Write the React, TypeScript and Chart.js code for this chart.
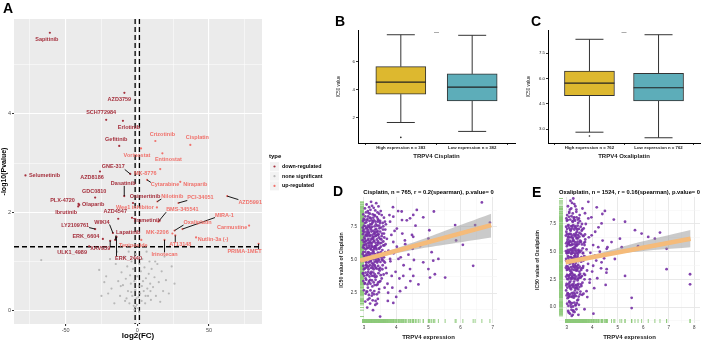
import React, { useEffect, useRef } from 'react';
import { Chart, registerables } from 'chart.js';
Chart.register(...registerables);

const FONT = '"Liberation Sans", Arial, Helvetica, sans-serif';
Chart.defaults.font.family = FONT;

// ================= Panel A : volcano =================
const downLabels = ['Sapitinib','AZD3759','SCH772984','Erlotinib','Gefitinib','GNE-317','AZD8186','Selumetinib','Dasatinib','Osimertinib','GDC0810','PLX-4720','Olaparib','Ibrutinib','AZD4547','Trametinib','WIKI4','LY2109761','Lapatinib','ERK_6604','XAV939','ULK1_4989','ERK_2440'];
const downFC = [-61,-9,-21.7,-10,-12.6,-4.9,-26,-78,-9.1,-3,-29.4,-41,-40.5,-41.2,-13.3,-3.7,-17,-29.4,-15.4,-24,-18.9,-33.6,-14.5];
const downP = [5.65,4.43,3.88,3.86,3.35,2.78,2.83,2.75,2.33,2.19,2.3,2.17,2.15,2.12,1.87,1.89,1.58,1.66,1.44,1.46,1.42,1.31,1.5];
const downDx = [-3,-5,-5,6,-3,-17,-8,19,-1,12,-1,-16,14,-12,-3,15,-11,-20,13,-17,-10,-17,12];
const downDy = [7,7,-7,7,-6,-7,6,0,-12.7,-6,-6,-3,0,6,-7,3,-11,-4,-7,-2,8,6,22];

const upLabels = ['Crizotinib','Cisplatin','Vorinostat','Entinostat','MK-8776','Cytarabine','Niraparib','Nilotinib','PCI-34051','AZD5991','Wee1 inhibitor','BMS-345541','MIRA-1','Oxaliplatin','MK-2206','AT13148','Irinotecan','Nutlin-3a (-)','Carmustine','PRIMA-1MET','Teniposide'];
const upFC = [12.6,37,2.6,17.5,16,6.8,30,14,28.7,62.7,13.7,14.7,31.5,26,24.5,26.5,19,41,78,84.6,2.8];
const upP = [3.45,3.37,3.3,3.2,2.88,2.66,2.62,2.22,2.19,2.33,2.1,1.81,1.66,1.63,1.57,1.53,1.44,1.49,1.73,1.36,1.44];
const upDx = [7,7,-4,6,-15,18,15,15,22,23,-22,24,42,23,-15,5,0,17,-17,-14,-8];
const upDy = [-7,-7,7,6,4,5,3,-5,-5,6,0,-12,-14,-8,-1,9,15,2,2,8,6];

const nsFC = [-67,-26.6,-21.7,-20.3,-13.3,-18,-15,-12,-11,-10,-9,-8.5,-8,-7,-6.5,-6,-5.5,-5,-4.5,-4,-3.5,-3,-2.5,-2,-1.5,-1,-0.5,0,0.5,1,1.5,2,2.5,3,3.5,4,4.5,5,5.5,6,6.5,7,7.5,8,8.5,9,9.5,10,11,12,13,14,15,16,17,18,19,20,22,24,26,-16,-14,-23,-19,-25,-2,1.2,-0.3,0.8,-1.2,3.2,-4.2,5.8,-7.5,9.2,-11.5,12.5];
const nsP = [1.03,0.83,0.7,0.35,0.6,0.45,0.95,0.3,0.78,0.52,1.1,0.2,0.65,0.9,0.4,1.2,0.15,0.72,0.55,1.0,0.3,0.85,0.1,0.6,0.42,1.15,0.25,0.7,0.05,0.5,0.95,0.35,0.8,0.2,1.05,0.6,0.4,0.88,0.15,0.66,1.2,0.45,0.3,0.75,1.0,0.55,0.22,0.85,0.48,0.68,0.3,0.95,0.58,0.18,0.8,0.4,1.1,0.62,0.35,0.9,0.55,0.15,1.2,0.58,1.05,0.3,0.02,-0.02,0.12,0.28,0.08,0.5,0.38,0.3,0.25,0.4,0.5,1.0];

const volXTicks = [-75,-50,-25,0,25,50,75];
const volYTicks = [0,1,2,3,4,5];
const fcCut = [-1.5, 1.5];
const pCut = 1.3;

// ================= Panels B / C : boxplots =================
const bCats = ['High expression n = 383', 'Low expression n = 382'];
const bLow = [1.66, 1.02];
const bQ1 = [3.69, 3.21];
const bMed = [4.55, 4.19];
const bQ3 = [5.66, 5.14];
const bHigh = [7.95, 7.91];
const bOut = [[0.59], []];
const bYTicks = [2, 4, 6];

const cCats = ['High expression n = 762', 'Low expression n = 762'];
const cLow = [2.83, 2.5];
const cQ1 = [4.99, 4.68];
const cMed = [5.74, 5.46];
const cQ3 = [6.45, 6.32];
const cHigh = [8.33, 8.6];
const cOut = [[2.6], []];
const cYTicks = [3, 4.5, 6, 7.5];

// ================= Panels D / E : scatter =================
const cisPoints = [
[6.66,9.36],[5.17,8.67],[4.64,8.79],[4.17,8.67],[4.53,8.41],[4.43,8.15],[4.18,8.02],[4.84,8.23],[5.03,7.25],[5.83,7.64],[6.45,7.64],[6.91,7.82],[5.0,6.62],[6.07,6.15],[5.86,6.48],[4.53,6.75],[4.27,6.48],[4.74,6.05],[4.51,5.85],[5.1,5.59],[5.31,5.08],[5.15,4.95],[4.84,4.82],[5.0,4.31],[4.43,4.31],[4.22,3.79],[4.53,3.79],[5.2,3.92],[5.05,3.67],[5.52,3.67],[6.39,4.56],[4.69,3.15],[4.12,2.64],[3.91,1.75],[3.5,0.72],[4.07,5.08],[3.91,6.36],[4.02,7.38],[3.91,8.28],[3.81,7.9],[3.81,5.08],[3.86,3.79],[3.75,2.52],
[2.97,7.2],[2.98,5.6],[2.99,8.1],[3.0,4.3],[3.01,6.7],[3.02,3.2],[3.03,7.8],[3.04,5.1],[3.05,6.2],[3.06,8.6],[3.07,4.8],[3.08,2.6],[3.09,7.0],[3.1,5.9],[3.11,3.9],[3.12,6.5],[3.13,8.3],[3.14,4.5],[3.15,7.5],[3.16,5.4],[3.17,2.1],[3.18,6.9],[3.19,3.5],[3.2,8.8],[3.21,5.0],[3.22,7.3],[3.23,4.1],[3.24,6.0],[3.25,9.1],[3.26,3.0],[3.27,5.7],[3.28,7.9],[3.29,4.7],[3.3,6.4],[3.31,2.4],[3.32,8.4],[3.33,5.3],[3.34,7.1],[3.35,3.7],[3.36,6.8],[3.37,4.4],[3.38,9.3],[3.39,5.8],[3.4,1.7],[3.41,7.6],[3.42,4.9],[3.43,6.3],[3.44,3.3],[3.45,8.0],[3.46,5.5],[3.47,2.8],[3.48,7.4],[3.49,4.2],[3.5,6.6],[3.52,8.7],[3.53,5.2],[3.55,3.6],[3.56,7.0],[3.58,4.6],[3.6,6.1],[3.62,8.2],[3.64,2.9],[3.66,5.6],[3.68,7.7],[3.7,4.0],
[2.97,4.0],[2.99,6.1],[3.0,7.6],[3.02,5.3],[3.03,8.9],[3.05,3.6],[3.06,6.9],[3.08,4.6],[3.09,8.0],[3.11,5.5],[3.12,2.9],[3.14,7.1],[3.15,3.3],[3.17,6.0],[3.18,8.5],[3.2,4.0],[3.21,6.3],[3.23,7.7],[3.24,2.3],[3.26,5.2],[3.27,6.7],[3.29,8.2],[3.3,3.8],[3.32,5.9],[3.33,4.6],[3.35,7.3],[3.36,1.9],[3.38,6.1],[3.39,3.1],[3.41,5.4],[3.42,8.6],[3.44,6.9],[3.46,4.3],[3.48,5.9],[3.5,7.8],[3.51,3.4],[3.54,6.3],[3.57,5.0],[3.59,7.3],[3.61,3.9],[3.63,6.7],[3.65,4.8],[3.1,1.4],[3.22,9.4],[3.28,1.2],[3.16,9.0],
[3.01,5.9],[3.04,6.4],[3.07,7.4],[3.1,6.8],[3.13,5.6],[3.16,6.3],[3.19,7.7],[3.22,5.8],[3.25,6.6],[3.28,5.5],[3.31,7.0],[3.34,6.0],[3.37,5.1],[3.4,6.9],[3.43,7.9],[3.46,6.7],[3.49,5.3],[3.27,4.4],[3.18,4.9],[3.09,5.3],[3.12,7.6],[3.36,7.9],[3.44,5.1],[3.05,4.4],[3.24,8.0],[3.33,3.1],
[3.08,9.2],[3.3,8.95],[3.45,9.05],[3.12,8.7],[3.35,8.75],
[2.98,8.45],[3.04,8.3],[3.14,8.55],[3.19,8.2],[3.27,8.45],[3.34,8.35],[3.4,8.25],[3.47,8.5],[3.55,8.4],
[2.97,7.95],[3.02,8.05],[3.07,7.85],[3.11,8.1],[3.17,7.95],[3.21,8.15],[3.26,7.8],[3.31,8.0],[3.37,7.7],[3.43,8.1],[3.5,7.95],[3.58,7.8],
[2.96,7.45],[3.0,7.3],[3.04,7.55],[3.09,7.4],[3.13,7.25],[3.17,7.55],[3.2,7.4],[3.25,7.5],[3.29,7.2],[3.33,7.55],[3.38,7.35],[3.42,7.2],[3.47,7.6],[3.53,7.45],[3.6,7.55],[3.66,7.3],
[2.97,6.95],[3.01,7.1],[3.05,6.85],[3.08,7.15],[3.12,6.9],[3.15,7.05],[3.19,6.8],[3.23,7.15],[3.26,6.9],[3.3,6.75],[3.33,7.0],[3.37,6.85],[3.41,7.1],[3.45,6.95],[3.5,7.15],[3.55,6.8],[3.62,7.0],
[2.96,6.5],[3.0,6.35],[3.03,6.6],[3.07,6.45],[3.11,6.25],[3.14,6.6],[3.18,6.4],[3.22,6.55],[3.25,6.3],[3.29,6.6],[3.32,6.45],[3.36,6.3],[3.4,6.55],[3.44,6.4],[3.49,6.25],[3.54,6.55],[3.6,6.4],[3.67,6.2],
[2.97,5.95],[3.01,6.15],[3.05,5.8],[3.08,6.05],[3.12,5.9],[3.16,6.1],[3.2,5.85],[3.23,6.15],[3.27,6.0],[3.31,5.8],[3.35,6.05],[3.38,5.9],[3.42,6.15],[3.47,5.85],[3.52,6.0],[3.57,5.75],[3.63,6.1],
[2.96,5.45],[3.0,5.3],[3.04,5.6],[3.07,5.4],[3.11,5.25],[3.15,5.55],[3.19,5.35],[3.22,5.5],[3.26,5.3],[3.3,5.6],[3.34,5.45],[3.38,5.3],[3.43,5.55],[3.47,5.4],[3.52,5.6],[3.58,5.3],[3.65,5.45],
[2.97,4.95],[3.02,5.1],[3.06,4.85],[3.1,5.05],[3.14,4.8],[3.18,5.15],[3.21,4.9],[3.25,4.75],[3.29,5.05],[3.33,4.85],[3.37,4.95],[3.41,4.8],[3.46,5.0],[3.51,4.85],[3.56,5.05],[3.62,4.9],
[2.98,4.55],[3.02,4.35],[3.06,4.6],[3.1,4.45],[3.14,4.3],[3.18,4.6],[3.22,4.4],[3.26,4.55],[3.3,4.3],[3.34,4.5],[3.39,4.35],[3.44,4.55],[3.5,4.4],[3.57,4.3],
[2.97,3.95],[3.01,3.8],[3.05,4.05],[3.09,3.85],[3.13,4.1],[3.17,3.75],[3.21,3.95],[3.25,3.8],[3.29,4.05],[3.34,3.9],[3.39,3.75],[3.45,4.0],[3.52,3.85],
[2.98,3.4],[3.03,3.25],[3.07,3.5],[3.11,3.15],[3.16,3.4],[3.2,3.2],[3.25,3.45],[3.3,3.3],[3.36,3.5],[3.42,3.15],[3.48,3.35],
[3.0,2.7],[3.05,2.45],[3.1,2.6],[3.15,2.35],[3.2,2.7],[3.26,2.5],[3.32,2.65],[3.4,2.4],[3.46,2.55],
[3.04,1.85],[3.12,2.0],[3.19,1.7],[3.27,1.95],[3.35,1.6],[3.43,2.05],
[3.62,5.2],[3.65,7.9],[3.68,4.4],[3.71,6.6],[3.73,3.2],[3.76,5.7],[3.79,8.4],[3.82,4.9],[3.85,6.9],[3.88,2.9],[3.92,5.5],[3.95,7.2],[3.98,4.1],[4.02,6.0],[4.06,8.7],[4.1,3.6],[4.14,5.2],[4.19,7.0],[4.23,4.6],[4.28,6.2],[4.33,8.0],[4.38,5.4],[4.44,3.4],[4.49,6.9],[4.55,5.0],[4.6,7.6],[3.74,1.9],[3.9,9.0],[4.0,2.2],[4.3,2.9]
];
const cisFitX = [2.88, 6.95];
const cisFitY = [4.95, 7.64];
const cisBandX = [2.88, 3.5, 4.5, 5.5, 6.95];
const cisBandHi = [5.15, 5.5, 6.3, 7.2, 8.5];
const cisBandLo = [4.75, 5.2, 5.75, 6.15, 6.7];

const oxaPoints = [
[4.18,9.0],[4.5,8.68],[3.72,8.47],[3.85,8.0],[4.37,7.55],[4.85,7.9],[5.29,7.7],[5.68,6.94],[5.94,6.63],[6.66,6.72],[6.46,6.17],[6.2,6.33],[5.09,6.17],[4.76,5.87],[5.16,5.41],[4.57,5.26],[5.55,5.1],[5.8,5.5],[6.92,5.26],[4.11,4.64],[4.37,4.04],[4.89,4.34],[5.29,2.81],[4.57,3.42],[6.92,3.42],[7.84,2.96],[7.84,2.05],[5.55,0.83],[5.55,-0.09],[3.91,2.5],[4.04,3.73],[3.78,1.43],[3.72,5.87],[3.98,6.48],[4.24,5.41],[3.45,0.67],[3.26,-0.4],
[2.98,4.2],[2.99,6.8],[3.0,2.1],[3.01,5.5],[3.02,8.3],[3.03,3.4],[3.04,6.1],[3.05,1.2],[3.06,4.9],[3.07,7.4],[3.08,2.8],[3.09,5.8],[3.1,0.5],[3.11,6.6],[3.12,3.9],[3.13,8.8],[3.14,2.3],[3.15,5.2],[3.16,7.0],[3.17,1.6],[3.18,4.5],[3.19,6.3],[3.2,3.1],[3.21,9.4],[3.22,5.0],[3.23,2.0],[3.24,7.7],[3.25,4.0],[3.26,-0.3],[3.27,6.0],[3.28,3.6],[3.29,8.1],[3.3,1.0],[3.31,5.4],[3.32,2.6],[3.33,7.2],[3.34,4.7],[3.35,0.2],[3.36,6.5],[3.37,3.3],[3.38,8.6],[3.39,5.7],[3.4,1.8],[3.41,4.3],[3.42,7.0],[3.43,2.4],[3.44,6.2],[3.45,3.8],[3.46,-0.7],[3.47,5.1],[3.48,8.0],[3.49,2.9],[3.5,6.7],[3.52,4.4],[3.54,1.4],[3.56,5.9],[3.58,3.5],[3.6,7.5],[3.62,2.2],[3.64,4.9],[3.66,6.4],[3.68,3.0],[3.7,5.6],
[2.98,1.5],[3.0,3.7],[3.01,7.8],[3.03,5.0],[3.04,0.8],[3.06,2.5],[3.07,6.3],[3.09,4.1],[3.1,8.5],[3.12,1.9],[3.13,5.6],[3.15,3.0],[3.16,6.9],[3.18,0.0],[3.19,4.8],[3.21,2.7],[3.22,7.3],[3.24,3.9],[3.25,6.1],[3.27,1.3],[3.28,5.3],[3.3,7.9],[3.31,2.9],[3.33,4.3],[3.34,9.1],[3.36,1.7],[3.37,5.5],[3.39,3.4],[3.4,6.8],[3.42,0.6],[3.43,4.6],[3.45,7.6],[3.46,2.1],[3.48,5.0],[3.5,3.2],[3.51,8.3],[3.53,6.0],[3.55,2.7],[3.57,4.1],[3.59,6.9],[3.61,1.1],[3.63,5.3],[3.65,3.7],[3.67,7.1],[3.15,9.6],[3.08,-0.5],[3.26,9.8],[3.2,-0.8],
[3.02,2.9],[3.05,4.6],[3.08,3.5],[3.11,2.2],[3.14,4.0],[3.17,3.2],[3.2,5.6],[3.23,3.0],[3.26,4.4],[3.29,2.3],[3.32,3.8],[3.35,5.2],[3.38,2.0],[3.41,3.6],[3.44,4.8],[3.47,2.6],[3.5,4.2],[3.53,3.0],[3.12,6.0],[3.18,2.6],[3.24,5.3],[3.3,4.6],[3.36,4.0],[3.42,5.6],[3.06,5.7],[3.0,4.9],[3.09,1.0],[3.27,1.9],[3.33,1.5],[3.39,6.2],[3.45,1.6],[3.14,0.4],[3.22,0.9],[3.58,1.9],[3.7,2.5],[3.75,4.5],[3.8,3.3],[3.73,6.1],
[3.05,9.1],[3.18,8.9],[3.3,9.3],[3.1,8.6],[3.24,8.45],[3.38,8.8],
[2.99,8.0],[3.04,7.85],[3.09,8.15],[3.14,7.9],[3.19,8.2],[3.23,7.75],[3.28,8.05],[3.33,7.8],[3.39,8.1],[3.44,7.9],[3.52,7.75],
[2.98,7.25],[3.02,7.05],[3.06,7.35],[3.1,7.15],[3.14,6.95],[3.18,7.3],[3.22,7.1],[3.26,7.4],[3.3,7.0],[3.34,7.3],[3.38,7.1],[3.43,7.35],[3.48,7.05],[3.55,7.25],[3.62,7.0],
[2.97,6.45],[3.01,6.6],[3.05,6.35],[3.08,6.55],[3.12,6.3],[3.16,6.6],[3.2,6.45],[3.24,6.25],[3.28,6.55],[3.32,6.4],[3.36,6.65],[3.4,6.3],[3.45,6.5],[3.5,6.35],[3.56,6.6],[3.63,6.45],[3.72,6.55],
[2.98,5.75],[3.02,5.9],[3.06,5.65],[3.1,5.85],[3.14,5.6],[3.18,5.9],[3.22,5.7],[3.26,5.95],[3.3,5.65],[3.34,5.85],[3.38,5.6],[3.43,5.9],[3.47,5.7],[3.53,5.85],[3.6,5.65],[3.68,5.8],
[2.97,5.05],[3.01,4.85],[3.05,5.15],[3.09,4.95],[3.13,5.1],[3.17,4.85],[3.21,5.15],[3.25,4.9],[3.29,5.1],[3.33,4.85],[3.37,5.05],[3.41,4.9],[3.46,5.15],[3.51,4.95],[3.57,5.1],[3.64,4.85],
[2.98,4.35],[3.02,4.15],[3.06,4.45],[3.1,4.25],[3.14,4.5],[3.18,4.2],[3.22,4.4],[3.26,4.15],[3.3,4.35],[3.34,4.55],[3.38,4.25],[3.42,4.45],[3.47,4.15],[3.52,4.35],[3.58,4.5],[3.66,4.2],
[2.97,3.55],[3.01,3.35],[3.05,3.65],[3.09,3.45],[3.13,3.3],[3.17,3.6],[3.21,3.4],[3.25,3.7],[3.29,3.35],[3.33,3.55],[3.37,3.7],[3.41,3.3],[3.46,3.5],[3.51,3.65],[3.57,3.35],[3.64,3.55],
[2.98,2.75],[3.02,2.55],[3.06,2.85],[3.1,2.65],[3.14,2.9],[3.18,2.5],[3.22,2.8],[3.26,2.6],[3.3,2.85],[3.34,2.5],[3.38,2.75],[3.43,2.55],[3.48,2.85],[3.54,2.65],[3.6,2.8],
[2.99,1.95],[3.03,1.75],[3.07,2.05],[3.11,1.85],[3.15,1.7],[3.19,2.0],[3.23,1.8],[3.27,2.1],[3.31,1.75],[3.35,1.95],[3.39,1.7],[3.44,2.0],[3.5,1.8],[3.56,2.05],
[3.0,1.05],[3.04,1.25],[3.08,0.9],[3.12,1.15],[3.16,0.95],[3.2,1.25],[3.24,1.05],[3.28,0.85],[3.32,1.2],[3.36,1.0],[3.41,1.3],[3.47,0.95],[3.53,1.15],
[3.02,0.3],[3.07,0.1],[3.11,0.45],[3.16,0.2],[3.21,0.35],[3.25,0.05],[3.3,0.4],[3.35,0.15],[3.4,0.35],[3.48,0.2],
[3.06,-0.35],[3.13,-0.6],[3.19,-0.25],[3.24,-0.7],[3.31,-0.45],[3.38,-0.2],
[3.62,8.9],[3.66,1.2],[3.69,4.6],[3.72,2.9],[3.75,7.5],[3.78,5.2],[3.81,0.9],[3.84,3.9],[3.87,6.3],[3.9,2.2],[3.93,4.9],[3.97,8.1],[4.0,3.2],[4.04,5.6],[4.08,1.7],[4.12,6.8],[4.16,4.2],[4.2,2.6],[4.25,7.2],[4.3,5.0],[4.35,3.5],[4.41,6.0],[4.47,4.4],[4.53,2.0],[4.6,5.4],[3.7,-0.2],[3.85,9.5],[4.05,-0.6],[4.4,8.4],[4.56,3.1]
];
const oxaFitX = [2.96, 7.86];
const oxaFitY = [4.04, 6.17];
const oxaBandX = [2.96, 3.5, 4.5, 5.5, 7.86];
const oxaBandHi = [4.25, 4.45, 5.0, 5.65, 6.95];
const oxaBandLo = [3.85, 4.15, 4.6, 4.95, 5.4];

const dXTicks = [3,3.5,4,4.5,5,5.5,6,6.5,7];
const dYTicks = [1.25,2.5,3.75,5,6.25,7.5,8.75];
const eXTicks = [3,3.5,4,4.5,5,5.5,6,6.5,7,7.5,8];
const eYTicks = [-1.25,0,1.25,2.5,3.75,5,6.25,7.5,8.75];

// ================= styles =================
const DOWN = '#A5303D';
const UP = '#F0716B';
const NS = '#B8B8B8';
const YEL = '#DDB82F';
const TEAL = '#5DADB9';
const PURPLE = 'rgba(118,48,165,0.9)';
const RUG = '#8DC97B';
const ORANGE = '#F5BB7A';

const bgPlugin = {
  id: 'ggbg',
  beforeDraw(chart: any) {
    const { ctx, chartArea: a } = chart;
    ctx.save();
    ctx.fillStyle = '#EBEBEB';
    ctx.fillRect(a.left, a.top, a.right - a.left, a.bottom - a.top);
    ctx.restore();
  },
};

const cutPlugin = {
  id: 'cuts',
  beforeDatasetsDraw(chart: any) {
    const { ctx, chartArea: a, scales: { x, y } } = chart;
    ctx.save();
    ctx.strokeStyle = '#000';
    ctx.lineWidth = 1.3;
    ctx.setLineDash([5, 3]);
    ctx.beginPath();
    fcCut.forEach((v) => {
      const px = x.getPixelForValue(v);
      ctx.moveTo(px, a.top);
      ctx.lineTo(px, a.bottom);
    });
    const py = y.getPixelForValue(pCut);
    ctx.moveTo(a.left, py);
    ctx.lineTo(a.right, py);
    ctx.stroke();
    ctx.restore();
  },
};

const volLabelPlugin = {
  id: 'volLabels',
  afterDatasetsDraw(chart: any) {
    const { ctx, scales: { x, y } } = chart;
    const groups = [
      { fx: downFC, fy: downP, lab: downLabels, dx: downDx, dy: downDy, color: DOWN },
      { fx: upFC, fy: upP, lab: upLabels, dx: upDx, dy: upDy, color: UP },
    ];
    ctx.save();
    ctx.font = 'bold 5.5px ' + FONT;
    ctx.textAlign = 'center';
    ctx.textBaseline = 'middle';
    const items: any[] = [];
    groups.forEach((g) => {
      g.lab.forEach((t, i) => {
        const px = x.getPixelForValue(g.fx[i]);
        const py = y.getPixelForValue(g.fy[i]);
        items.push({ t, px, py, lx: px + g.dx[i], ly: py + g.dy[i], color: g.color });
      });
    });
    ctx.strokeStyle = '#000';
    ctx.lineWidth = 0.9;
    items.forEach((it) => {
      const w = ctx.measureText(it.t).width;
      const h = 5;
      const nx = Math.max(it.lx - w / 2, Math.min(it.px, it.lx + w / 2));
      const ny = Math.max(it.ly - h / 2, Math.min(it.py, it.ly + h / 2));
      if (Math.hypot(nx - it.px, ny - it.py) > 4.5) {
        ctx.beginPath();
        ctx.moveTo(it.px, it.py);
        ctx.lineTo(nx, ny);
        ctx.stroke();
      }
    });
    items.forEach((it) => {
      ctx.fillStyle = it.color;
      ctx.fillText(it.t, it.lx, it.ly);
    });
    ctx.restore();
  },
  afterDraw(chart: any) {
    const { ctx } = chart;
    ctx.save();
    ctx.fillStyle = '#000';
    ctx.font = 'bold 6px ' + FONT;
    ctx.textBaseline = 'middle';
    ctx.fillText('type', 269, 156);
    const entries = [
      { t: 'down-regulated', c: DOWN },
      { t: 'none significant', c: NS },
      { t: 'up-regulated', c: UP },
    ];
    entries.forEach((e, i) => {
      const cy = 166.5 + i * 9.7;
      ctx.fillStyle = '#F2F2F2';
      ctx.fillRect(270, cy - 4.5, 9, 9);
      ctx.fillStyle = e.c;
      ctx.beginPath();
      ctx.arc(274.5, cy, 1.1, 0, Math.PI * 2);
      ctx.fill();
      ctx.fillStyle = '#000';
      ctx.font = 'bold 5.3px ' + FONT;
      ctx.fillText(e.t, 282, cy);
    });
    ctx.restore();
  },
};

function buildVolcano(canvas: HTMLCanvasElement) {
  const mk = (xs: number[], ys: number[]) => xs.map((v, i) => ({ x: v, y: ys[i] }));
  return new Chart(canvas, {
    type: 'scatter',
    data: {
      datasets: [
        { label: 'none significant', data: mk(nsFC, nsP), backgroundColor: NS, borderWidth: 0, pointRadius: 1.1 },
        { label: 'down-regulated', data: mk(downFC, downP), backgroundColor: DOWN, borderWidth: 0, pointRadius: 1.1 },
        { label: 'up-regulated', data: mk(upFC, upP), backgroundColor: UP, borderWidth: 0, pointRadius: 1.1 },
      ],
    },
    options: {
      animation: false,
      responsive: false,
      maintainAspectRatio: false,
      layout: { padding: { top: 19, right: 78, left: 0, bottom: 0 } },
      plugins: { legend: { display: false }, tooltip: { enabled: false } },
      scales: {
        x: {
          type: 'linear', min: -86, max: 87,
          afterBuildTicks: (s: any) => { s.ticks = volXTicks.map((v) => ({ value: v })); },
          afterFit: (s: any) => { s.height = 17; },
          border: { display: false },
          grid: {
            color: '#FFFFFF',
            lineWidth: (c: any) => (c.tick && c.tick.value % 50 === 0 ? 1.1 : 0.5),
            tickColor: (c: any) => (c.tick && c.tick.value % 50 === 0 ? '#333' : 'rgba(0,0,0,0)'),
            tickLength: 2,
          },
          ticks: { font: { size: 5.5 }, color: '#4D4D4D', padding: 1, maxRotation: 0, autoSkip: false,
            callback: (v: any) => (v % 50 === 0 ? String(v) : '') },
          title: { display: true, text: 'log2(FC)', font: { size: 8, weight: 'bold' }, color: '#000', padding: 0 },
        },
        y: {
          type: 'linear', min: -0.27, max: 5.93,
          afterBuildTicks: (s: any) => { s.ticks = volYTicks.map((v) => ({ value: v })); },
          afterFit: (s: any) => { s.width = 14; },
          border: { display: false },
          grid: {
            color: '#FFFFFF',
            lineWidth: (c: any) => (c.tick && c.tick.value % 2 === 0 ? 1.1 : 0.5),
            tickColor: (c: any) => (c.tick && c.tick.value % 2 === 0 ? '#333' : 'rgba(0,0,0,0)'),
            tickLength: 2,
          },
          ticks: { font: { size: 5.5 }, color: '#4D4D4D', padding: 1, autoSkip: false,
            callback: (v: any) => (v % 2 === 0 ? String(v) : '') },
          title: { display: true, text: '-log10(Pvalue)', font: { size: 7, weight: 'bold' }, color: '#000', padding: 0 },
        },
      },
    } as any,
    plugins: [bgPlugin, cutPlugin, volLabelPlugin],
  });
}

function makeBoxPlugin(low: number[], med: number[], q1: number[], q3: number[], high: number[], out: number[][]) {
  return {
    id: 'boxparts',
    beforeDatasetsDraw(chart: any) {
      const { ctx, scales: { x, y } } = chart;
      ctx.save();
      ctx.strokeStyle = '#333';
      ctx.lineWidth = 1;
      low.forEach((_, i) => {
        const cx = x.getPixelForValue(i + 1);
        const hi = y.getPixelForValue(high[i]);
        const lo = y.getPixelForValue(low[i]);
        ctx.beginPath();
        ctx.moveTo(cx, y.getPixelForValue(q3[i])); ctx.lineTo(cx, hi);
        ctx.moveTo(cx, y.getPixelForValue(q1[i])); ctx.lineTo(cx, lo);
        ctx.moveTo(cx - 14, hi); ctx.lineTo(cx + 14, hi);
        ctx.moveTo(cx - 14, lo); ctx.lineTo(cx + 14, lo);
        ctx.stroke();
      });
      ctx.restore();
    },
    afterDatasetsDraw(chart: any) {
      const { ctx, chartArea: a, scales: { x, y } } = chart;
      const meta = chart.getDatasetMeta(0);
      ctx.save();
      ctx.strokeStyle = '#222';
      ctx.lineWidth = 1.2;
      med.forEach((m, i) => {
        const el = meta.data[i];
        const py = y.getPixelForValue(m);
        ctx.beginPath();
        ctx.moveTo(el.x - el.width / 2, py);
        ctx.lineTo(el.x + el.width / 2, py);
        ctx.stroke();
      });
      ctx.fillStyle = '#222';
      out.forEach((arr, i) => {
        arr.forEach((v) => {
          ctx.beginPath();
          ctx.arc(x.getPixelForValue(i + 1), y.getPixelForValue(v), 0.8, 0, Math.PI * 2);
          ctx.fill();
        });
      });
      ctx.font = '5px ' + FONT;
      ctx.textAlign = 'center';
      ctx.textBaseline = 'middle';
      ctx.fillText('—', x.getPixelForValue(1.5), a.top + 3);
      ctx.restore();
    },
  };
}

function buildBox(canvas: HTMLCanvasElement, cats: string[], low: number[], q1: number[], med: number[], q3: number[], high: number[], out: number[][], yTicks: number[], yMin: number, yMax: number, xTitle: string, padRight: number, decimals: number) {
  return new Chart(canvas, {
    type: 'bar',
    data: {
      datasets: [{
        data: q1.map((v, i) => ({ x: i + 1, y: [v, q3[i]] })),
        backgroundColor: [YEL, TEAL],
        borderColor: '#333',
        borderWidth: 1,
        borderSkipped: false,
        barThickness: 50,
      }],
    },
    options: {
      animation: false,
      responsive: false,
      maintainAspectRatio: false,
      layout: { padding: { top: 30, right: padRight, left: 0, bottom: 0 } },
      plugins: { legend: { display: false }, tooltip: { enabled: false } },
      scales: {
        x: {
          type: 'linear', min: 0.4, max: 2.6, offset: false,
          afterBuildTicks: (s: any) => { s.ticks = [1, 2].map((v) => ({ value: v })); },
          afterFit: (s: any) => { s.height = 17; },
          border: { display: true, color: '#000', width: 1 },
          grid: { display: true, drawOnChartArea: false, color: '#333', tickLength: 2 },
          ticks: { font: { size: 4.3, weight: 'bold' }, color: '#222', padding: 0.5, maxRotation: 0, autoSkip: false,
            callback: (v: any) => cats[v - 1] || '' },
          title: { display: true, text: xTitle, font: { size: 6, weight: 'bold' }, color: '#222', padding: 0 },
        },
        y: {
          type: 'linear', min: yMin, max: yMax,
          afterBuildTicks: (s: any) => { s.ticks = yTicks.map((v) => ({ value: v })); },
          afterFit: (s: any) => { s.width = 24; },
          border: { display: true, color: '#000', width: 1 },
          grid: { display: true, drawOnChartArea: false, color: '#333', tickLength: 2 },
          ticks: { font: { size: 4.3 }, color: '#222', padding: 1, autoSkip: false,
            callback: (v: any) => Number(v).toFixed(decimals) },
          title: { display: true, text: 'IC50 value', font: { size: 4.5 }, color: '#222', padding: 2 },
        },
      },
    } as any,
    plugins: [makeBoxPlugin(low, med, q1, q3, high, out)],
  });
}

function makeRugPlugin(points: number[][]) {
  return {
    id: 'rug',
    beforeDatasetsDraw(chart: any) {
      const { ctx, chartArea: a, scales: { x, y } } = chart;
      ctx.save();
      ctx.strokeStyle = RUG;
      ctx.lineWidth = 0.9;
      ctx.beginPath();
      points.forEach((p) => {
        const px = x.getPixelForValue(p[0]);
        const py = y.getPixelForValue(p[1]);
        ctx.moveTo(px, a.bottom - 4);
        ctx.lineTo(px, a.bottom);
        ctx.moveTo(a.left, py);
        ctx.lineTo(a.left + 4, py);
      });
      ctx.stroke();
      ctx.restore();
    },
  };
}

function buildScatter(canvas: HTMLCanvasElement, points: number[][], fitX: number[], fitY: number[], bandX: number[], bandHi: number[], bandLo: number[], xMin: number, xMax: number, yMin: number, yMax: number, xTicks: number[], yTicks: number[], title: string, yTitle: string, yAxisW: number, padRight: number) {
  return new Chart(canvas, {
    type: 'scatter',
    data: {
      datasets: [
        { data: points.map((p) => ({ x: p[0], y: p[1] })), backgroundColor: PURPLE, borderWidth: 0, pointRadius: 1.4, order: 10 },
        { type: 'line', data: bandX.map((v, i) => ({ x: v, y: bandHi[i] })), borderWidth: 0, pointRadius: 0, fill: '+1', backgroundColor: 'rgba(150,150,150,0.5)', tension: 0.4, order: 5 },
        { type: 'line', data: bandX.map((v, i) => ({ x: v, y: bandLo[i] })), borderWidth: 0, pointRadius: 0, fill: false, tension: 0.4, order: 5 },
        { type: 'line', data: fitX.map((v, i) => ({ x: v, y: fitY[i] })), borderColor: ORANGE, borderWidth: 4.5, pointRadius: 0, fill: false, order: 1 },
      ],
    },
    options: {
      animation: false,
      responsive: false,
      maintainAspectRatio: false,
      layout: { padding: { top: 0, right: padRight, left: 0, bottom: 0 } },
      plugins: {
        legend: { display: false }, tooltip: { enabled: false },
        title: { display: true, text: title, fullSize: false, font: { size: 5.8, weight: 'bold' }, color: '#000', padding: { top: 5.5, bottom: 1.5 } },
      },
      scales: {
        x: {
          type: 'linear', min: xMin, max: xMax,
          afterBuildTicks: (s: any) => { s.ticks = xTicks.map((v) => ({ value: v })); },
          afterFit: (s: any) => { s.height = 18; },
          border: { display: false },
          grid: { drawTicks: false, color: (c: any) => (c.tick && Number.isInteger(c.tick.value) ? '#E6E6E6' : '#F2F2F2'), lineWidth: (c: any) => (c.tick && Number.isInteger(c.tick.value) ? 0.9 : 0.5) },
          ticks: { font: { size: 4.5 }, color: '#333', padding: 2.5, maxRotation: 0, autoSkip: false,
            callback: (v: any) => (Number.isInteger(v) ? String(v) : '') },
          title: { display: true, text: 'TRPV4 expression', font: { size: 6, weight: 'bold' }, color: '#222', padding: 0 },
        },
        y: {
          type: 'linear', min: yMin, max: yMax,
          afterBuildTicks: (s: any) => { s.ticks = yTicks.map((v) => ({ value: v })); },
          afterFit: (s: any) => { s.width = yAxisW; },
          border: { display: false },
          grid: { drawTicks: false, color: (c: any) => (c.tick && c.tick.value % 2.5 === 0 ? '#E6E6E6' : '#F2F2F2'), lineWidth: (c: any) => (c.tick && c.tick.value % 2.5 === 0 ? 0.9 : 0.5) },
          ticks: { font: { size: 4.5 }, color: '#333', padding: 3, autoSkip: false,
            callback: (v: any) => (v % 2.5 === 0 ? Number(v).toFixed(1) : '') },
          title: { display: true, text: yTitle, font: { size: 5.2, weight: 'bold' }, color: '#222', padding: 0 },
        },
      },
    } as any,
    plugins: [makeRugPlugin(points)],
  });
}

function ChartCanvas({ left, top, width, height, build }: any) {
  const ref = useRef<HTMLCanvasElement>(null);
  useEffect(() => {
    const chart = build(ref.current as HTMLCanvasElement);
    return () => chart.destroy();
  }, []);
  return <canvas ref={ref} width={width} height={height} style={{ position: 'absolute', left, top, width, height }} />;
}

const letterStyle = (left: number, top: number): any => ({
  position: 'absolute', left, top, fontFamily: FONT, fontWeight: 'bold', fontSize: 14, lineHeight: '14px', color: '#000',
});

export default function App() {
  return (
    <div style={{ position: 'fixed', left: 0, top: 0, width: 708, height: 341, background: '#fff', overflow: 'hidden' }}>
      <ChartCanvas left={0} top={0} width={340} height={341} build={buildVolcano} />
      <ChartCanvas left={334} top={0} width={184} height={160}
        build={(c: HTMLCanvasElement) => buildBox(c, bCats, bLow, bQ1, bMed, bQ3, bHigh, bOut, bYTicks, 0.19, 8.29, 'TRPV4 Cisplatin', 3, 0)} />
      <ChartCanvas left={524} top={0} width={184} height={160}
        build={(c: HTMLCanvasElement) => buildBox(c, cCats, cLow, cQ1, cMed, cQ3, cHigh, cOut, cYTicks, 2.19, 8.88, 'TRPV4 Oxaliplatin', 8, 1)} />
      <ChartCanvas left={338} top={183} width={164} height={158}
        build={(c: HTMLCanvasElement) => buildScatter(c, cisPoints, cisFitX, cisFitY, cisBandX, cisBandHi, cisBandLo, 2.876, 7.13, 0.23, 9.77, dXTicks, dYTicks, 'Cisplatin, n = 765, r = 0.2(spearman), p.value= 0', 'IC50 value of Cisplatin', 22, 5)} />
      <ChartCanvas left={534} top={183} width={174} height={158}
        build={(c: HTMLCanvasElement) => buildScatter(c, oxaPoints, oxaFitX, oxaFitY, oxaBandX, oxaBandHi, oxaBandLo, 2.70, 8.23, -1.44, 9.94, eXTicks, eYTicks, 'Oxaliplatin, n = 1524, r = 0.16(spearman), p.value= 0', 'IC50 value of Oxaliplatin', 25, 8)} />
      <div style={letterStyle(3, 1)}>A</div>
      <div style={letterStyle(335, 14)}>B</div>
      <div style={letterStyle(531, 14)}>C</div>
      <div style={letterStyle(333, 184)}>D</div>
      <div style={letterStyle(532, 185)}>E</div>
    </div>
  );
}
